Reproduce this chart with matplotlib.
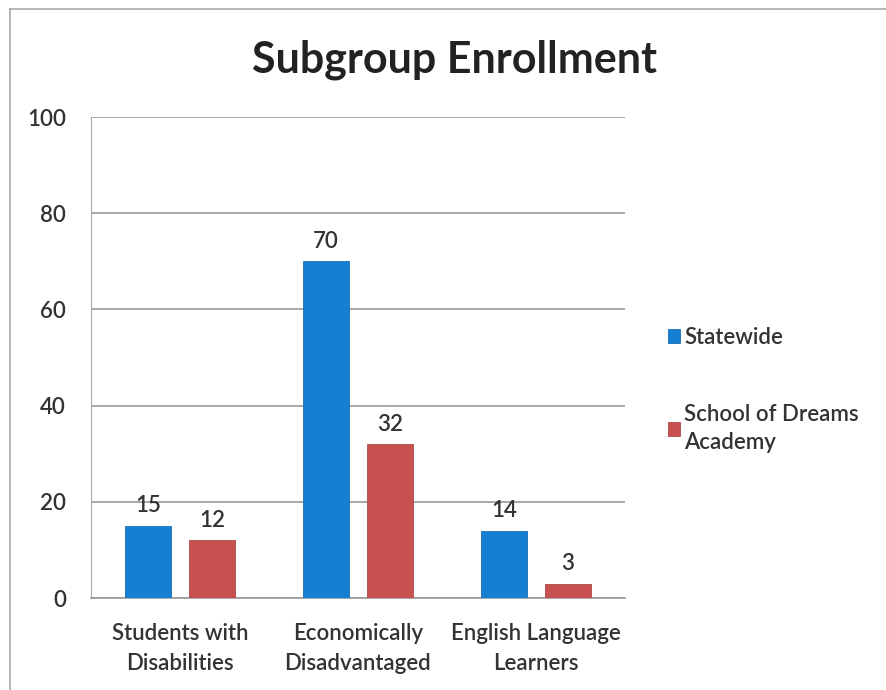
import numpy as np
import matplotlib.pyplot as plt
from matplotlib.lines import Line2D

plt.rcParams['font.family'] = ['Lato', 'DejaVu Sans']
plt.rcParams['font.weight'] = 'semibold'

categories = ['Students with\nDisabilities', 'Economically\nDisadvantaged', 'English Language\nLearners']
statewide = [15, 70, 14]
school = [12, 32, 3]
series_names = ['Statewide', 'School of Dreams\nAcademy']
yticks = [0, 20, 40, 60, 80, 100]

blue = '#1580d2'
red = '#c8504f'
text_col = '#333333'

fig = plt.figure(figsize=(8.86, 6.9), dpi=100)
ax = fig.add_axes([0.1027, 0.1333, 0.6027, 0.697])

x = np.arange(len(categories))
w = 0.26
off = 0.18
b1 = ax.bar(x - off, statewide, w, color=blue, edgecolor='#1870b8', linewidth=0.6,
            label=series_names[0], zorder=3)
b2 = ax.bar(x + off, school, w, color=red, edgecolor='#b04848', linewidth=0.6,
            label=series_names[1], zorder=3)

for bars, vals in ((b1, statewide), (b2, school)):
    for rect, v in zip(bars, vals):
        ax.text(rect.get_x() + rect.get_width() / 2, v + 2.0, str(v),
                ha='center', va='bottom', fontsize=16, color=text_col)

ax.set_xlim(-0.5, 2.5)
ax.set_ylim(0, 100)
ax.set_yticks(yticks)
ax.set_xticks(x)
ax.set_xticklabels(categories, fontsize=16, color=text_col, linespacing=1.5)
ax.tick_params(axis='y', labelsize=16, labelcolor=text_col, length=0, pad=18)
ax.tick_params(axis='x', length=0, pad=18)
ax.grid(axis='y', color='#999999', linewidth=1.2, zorder=0)
for s in ('top', 'right'):
    ax.spines[s].set_visible(False)
ax.spines['left'].set_color('#aaaaaa')
ax.spines['bottom'].set_color('#999999')
ax.spines['bottom'].set_linewidth(1.2)

fig.text(0.5135, 0.913, 'Subgroup Enrollment', ha='center', va='center',
         fontsize=31, fontweight='bold', color='#222222')

leg = fig.legend(handles=[b1, b2], loc='upper left', bbox_to_anchor=(0.731, 0.555),
                 frameon=False, fontsize=16, handlelength=0.55, handleheight=0.55,
                 handletextpad=0.2, labelspacing=2.5)
for t in leg.get_texts():
    t.set_color(text_col)
    t.set_linespacing(1.45)

# thin frame along the top and left edges
fig.add_artist(Line2D([0.0113, 1.0], [0.987, 0.987], color='#aaaaaa', linewidth=1.2))
fig.add_artist(Line2D([0.0113, 0.0113], [0.0, 0.987], color='#aaaaaa', linewidth=1.2))

fig.savefig('out.png', dpi=100)
